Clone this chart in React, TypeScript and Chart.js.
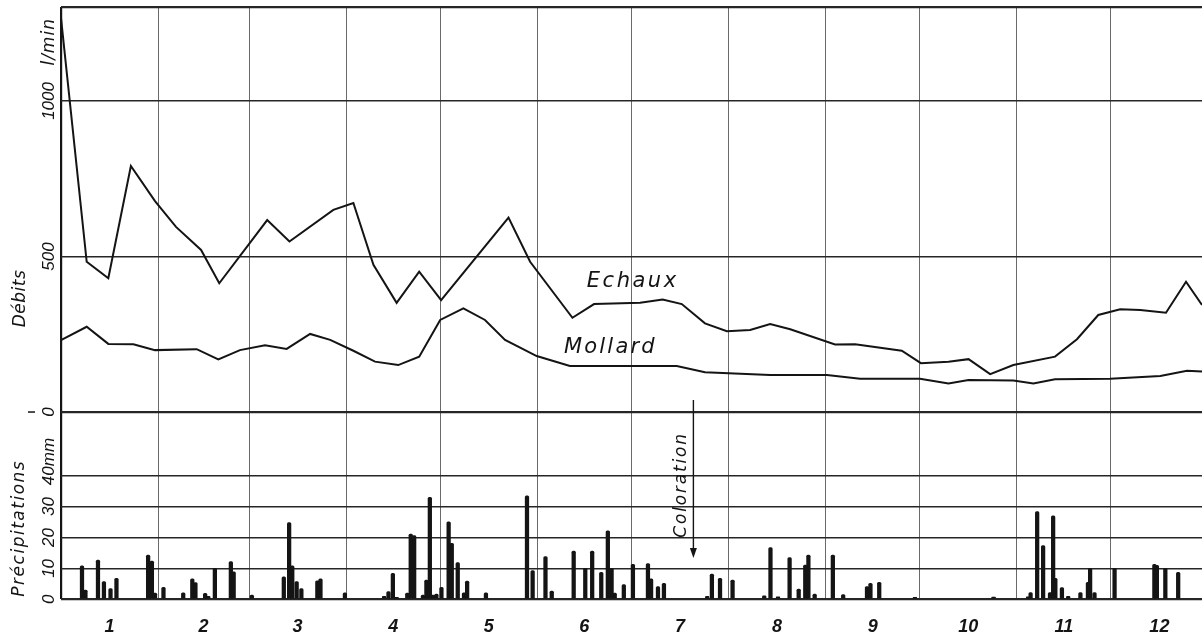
import React, { useEffect, useRef } from 'react';
import { Chart, registerables } from 'chart.js';

Chart.register(...registerables);

// ---------- DATA ----------
// x axis: day of year (leap year), months as calendar boundaries
const monthStartDays = [0, 31, 60, 91, 121, 152, 182, 213, 244, 274, 305, 335];
const monthMidDays = [15.5, 45.5, 75.5, 106, 136.5, 167, 197.5, 228.5, 259, 289.5, 320, 350.5];
const monthLabels = ['1', '2', '3', '4', '5', '6', '7', '8', '9', '10', '11', '12'];
const dayMax = 364.1;

// Débits (l/min)
const echauxDays = [0, 8.2, 15.1, 22.3, 30.0, 36.7, 44.7, 50.5, 65.8, 72.9, 86.9, 93.3, 99.7, 107.1, 114.3, 121.3, 142.8, 149.7, 163.2, 170.1, 184.8, 192.0, 198.1, 205.5, 212.5, 219.9, 226.3, 232.7, 247.0, 253.4, 268.3, 274.4, 283.2, 289.6, 296.5, 303.9, 317.2, 324.2, 331.0, 338.0, 344.4, 352.6, 359.0, 364.1];
const echauxFlow = [1267, 483, 430, 791, 678, 595, 521, 414, 617, 548, 650, 672, 473, 351, 451, 360, 625, 483, 303, 347, 351, 362, 347, 285, 260, 264, 283, 266, 217, 218, 197, 157, 162, 170, 122, 151, 178, 234, 312, 330, 328, 319, 419, 344];

const mollardDays = [0, 8.2, 15.1, 23.1, 30.0, 43.3, 50.2, 57.1, 65.1, 72.0, 79.5, 85.9, 93.3, 100.2, 107.6, 114.3, 121.0, 128.4, 135.3, 141.7, 151.8, 162.4, 196.5, 205.5, 226.3, 244.4, 255.0, 274.1, 283.2, 289.6, 303.9, 310.3, 317.2, 334.8, 350.8, 359.3, 364.1];
const mollardFlow = [231, 274, 219, 218, 199, 202, 169, 199, 215, 203, 251, 232, 197, 162, 151, 178, 296, 333, 296, 232, 180, 148, 148, 128, 119, 119, 107, 107, 92, 103, 101, 92, 105, 107, 116, 133, 130];

// Précipitations (mm)
const rainDays = [6.7, 7.8, 11.8, 13.7, 15.8, 17.7, 27.8, 29.0, 30.0, 32.7, 39.0, 41.9, 42.9, 46.0, 47.0, 49.1, 54.2, 55.1, 60.9, 71.1, 72.8, 73.8, 75.2, 76.7, 81.8, 82.8, 90.6, 103.1, 104.5, 105.9, 107.1, 110.5, 111.6, 112.7, 115.5, 116.6, 117.7, 118.7, 119.8, 121.4, 123.7, 124.7, 126.6, 128.6, 129.6, 135.6, 148.7, 150.5, 154.6, 156.6, 163.6, 167.3, 169.5, 172.4, 174.5, 175.7, 176.7, 179.6, 182.5, 187.3, 188.3, 190.5, 192.4, 206.2, 207.7, 210.3, 214.3, 224.4, 226.4, 228.8, 232.5, 235.4, 237.5, 238.5, 240.5, 246.3, 249.6, 257.2, 258.3, 261.1, 272.5, 297.6, 308.6, 309.4, 311.5, 313.4, 315.6, 316.6, 317.3, 319.4, 321.4, 325.3, 327.7, 328.4, 329.8, 336.2, 348.9, 349.7, 352.4, 356.5];
const rainMm = [10.8, 3.0, 12.7, 5.7, 3.5, 6.8, 14.3, 12.4, 2.0, 3.9, 2.1, 6.6, 5.4, 1.9, 1.0, 10.0, 12.2, 8.9, 1.4, 7.3, 24.8, 10.8, 5.7, 3.5, 6.0, 6.6, 2.1, 1.0, 2.5, 8.4, 0.6, 2.0, 21.1, 20.6, 1.4, 6.2, 33.0, 1.4, 1.7, 3.9, 25.1, 18.1, 11.9, 2.1, 5.9, 2.1, 33.5, 9.3, 13.8, 2.7, 15.6, 10.0, 15.6, 8.7, 22.2, 10.0, 2.0, 4.8, 11.3, 11.6, 6.6, 4.1, 5.2, 1.0, 8.2, 6.8, 6.2, 1.1, 16.7, 0.8, 13.5, 3.3, 11.1, 14.3, 1.7, 14.3, 1.5, 4.1, 5.2, 5.5, 0.6, 0.7, 0.8, 2.2, 28.4, 17.4, 2.2, 27.0, 6.8, 3.8, 1.0, 2.2, 5.5, 10.0, 2.2, 10.0, 11.3, 11.0, 10.0, 8.7];

// Axis ranges and tick labels
const flowMin = -602;
const flowMax = 1302;
const flowTicks = [0, 500, 1000];
const flowTickLabels = ['0', '500', '1000'];
const flowUnit = 'l/min';
const flowUnitAt = 1190;
const flowTitle = 'Débits';
const flowTitleAt = 365;

const rainMax = 191.7;
const rainTicks = [0, 10, 20, 30, 40];
const rainTickLabels = ['0', '10', '20', '30', '40mm'];
const rainTitle = 'Précipitations';
const rainTitleAt = 23;

const seriesNames = ['Echaux', 'Mollard'];
const echauxLabelAt = { day: 167.8, flow: 402 };
const mollardLabelAt = { day: 160.5, flow: 190 };
const colorationText = 'Coloration';
const colorationTextAt = { day: 199.5, mm: 37 };
const colorationArrow = { day: 201.8, fromMm: 64.5, toMm: 13.4 };

// ---------- STYLE ----------
const INK = '#141414';
const DIGIT_FONT = 'italic 17px "Liberation Sans", Arial, sans-serif';
const WORD_FONT = 'italic 17px "DejaVu Sans", sans-serif';
const SERIES_FONT = 'italic 21px "DejaVu Sans", sans-serif';

const annotationPlugin = {
  id: 'annotations',
  afterDraw(chart: any) {
    const { ctx } = chart;
    const xs = chart.scales.x;
    const yF = chart.scales.yF;
    const yP = chart.scales.yP;
    ctx.save();
    ctx.fillStyle = INK;
    ctx.strokeStyle = INK;

    const rot = (text: string, bx: number, cy: number, font: string, align: CanvasTextAlign = 'center', spacing = 0) => {
      ctx.save();
      ctx.translate(bx, cy);
      ctx.rotate(-Math.PI / 2);
      ctx.font = font;
      (ctx as any).letterSpacing = spacing + 'px';
      ctx.textAlign = align;
      ctx.textBaseline = 'alphabetic';
      ctx.fillText(text, 0, 0);
      ctx.restore();
    };

    // flow tick labels
    flowTicks.forEach((v, i) => rot(flowTickLabels[i], 54, yF.getPixelForValue(v), DIGIT_FONT));
    rot(flowUnit, 54, yF.getPixelForValue(flowUnitAt), WORD_FONT, 'center', 1);
    // small mark left of flow zero
    ctx.lineWidth = 1.5;
    ctx.beginPath();
    const y0 = yF.getPixelForValue(0);
    ctx.moveTo(28, y0);
    ctx.lineTo(35, y0);
    ctx.stroke();

    // rain tick labels
    rainTicks.forEach((v, i) => {
      const lbl = rainTickLabels[i];
      const num = lbl.replace(/[^0-9]/g, '');
      const py = yP.getPixelForValue(v);
      if (num !== lbl) {
        ctx.font = DIGIT_FONT;
        const w = ctx.measureText(num).width;
        rot(lbl, 54, py + w / 2, DIGIT_FONT, 'left');
      } else {
        rot(lbl, 54, py, DIGIT_FONT);
      }
    });

    // axis titles
    rot(flowTitle, 25, yF.getPixelForValue(flowTitleAt), WORD_FONT, 'center', 0.5);
    rot(rainTitle, 24, yP.getPixelForValue(rainTitleAt), WORD_FONT, 'center', 1.5);

    // series labels
    ctx.font = SERIES_FONT;
    ctx.textAlign = 'left';
    ctx.textBaseline = 'alphabetic';
    (ctx as any).letterSpacing = '2.5px';
    ctx.fillText(seriesNames[0], xs.getPixelForValue(echauxLabelAt.day), yF.getPixelForValue(echauxLabelAt.flow));
    (ctx as any).letterSpacing = '2.2px';
    ctx.fillText(seriesNames[1], xs.getPixelForValue(mollardLabelAt.day), yF.getPixelForValue(mollardLabelAt.flow));
    (ctx as any).letterSpacing = '0px';

    // Coloration text + arrow
    rot(colorationText, xs.getPixelForValue(colorationTextAt.day), yP.getPixelForValue(colorationTextAt.mm), WORD_FONT, 'center', 1.8);
    const ax = xs.getPixelForValue(colorationArrow.day);
    const ayTop = yP.getPixelForValue(colorationArrow.fromMm);
    const ayTip = yP.getPixelForValue(colorationArrow.toMm);
    ctx.lineWidth = 1.4;
    ctx.beginPath();
    ctx.moveTo(ax, ayTop);
    ctx.lineTo(ax, ayTip - 8);
    ctx.stroke();
    ctx.beginPath();
    ctx.moveTo(ax, ayTip);
    ctx.lineTo(ax - 3.5, ayTip - 10);
    ctx.lineTo(ax + 3.5, ayTip - 10);
    ctx.closePath();
    ctx.fill();

    ctx.restore();
  },
};

export default function App() {
  const canvasRef = useRef<HTMLCanvasElement>(null);

  useEffect(() => {
    const canvas = canvasRef.current;
    if (!canvas) return;

    const echauxData = echauxDays.map((d, i) => ({ x: d, y: echauxFlow[i] }));
    const mollardData = mollardDays.map((d, i) => ({ x: d, y: mollardFlow[i] }));
    const rainData = rainDays.map((d, i) => ({ x: d, y: rainMm[i] }));
    const boundSet = new Set(monthStartDays);

    const chart = new Chart(canvas, {
      type: 'bar',
      data: {
        datasets: [
          {
            type: 'line',
            label: seriesNames[0],
            data: echauxData,
            yAxisID: 'yF',
            borderColor: INK,
            borderWidth: 2,
            pointRadius: 0,
            tension: 0,
            fill: false,
          } as any,
          {
            type: 'line',
            label: seriesNames[1],
            data: mollardData,
            yAxisID: 'yF',
            borderColor: INK,
            borderWidth: 2,
            pointRadius: 0,
            tension: 0,
            fill: false,
          } as any,
          {
            type: 'bar',
            label: 'Précipitations',
            data: rainData,
            yAxisID: 'yP',
            backgroundColor: INK,
            borderWidth: 0,
            barThickness: 3.6,
            grouped: false,
            borderRadius: { topLeft: 1.5, topRight: 1.5, bottomLeft: 0, bottomRight: 0 },
            borderSkipped: 'bottom',
          } as any,
        ],
      },
      options: {
        responsive: false,
        animation: false,
        devicePixelRatio: 1,
        layout: { padding: { left: 61, top: 7, right: 0, bottom: 0 } },
        plugins: {
          legend: { display: false },
          tooltip: { enabled: false },
          title: { display: false },
        },
        scales: {
          x: {
            type: 'linear',
            position: 'bottom',
            offset: false,
            min: 0,
            max: dayMax,
            afterBuildTicks: (s: any) => {
              const vals = [...monthStartDays, ...monthMidDays].filter((v) => v <= dayMax).sort((a, b) => a - b);
              s.ticks = vals.map((v) => ({ value: v }));
            },
            afterFit: (s: any) => {
              s.height = 39.7;
            },
            ticks: {
              autoSkip: false,
              maxRotation: 0,
              minRotation: 0,
              padding: 16.5,
              color: INK,
              font: { family: '"Liberation Sans", Arial, sans-serif', size: 18, style: 'italic', weight: 'bold' },
              callback: (v: any) => {
                const i = monthMidDays.indexOf(Number(v));
                return i >= 0 ? monthLabels[i] : '';
              },
            },
            grid: {
              offset: false,
              drawTicks: false,
              color: (c: any) => (boundSet.has(c.tick?.value) ? (c.tick.value === 0 ? INK : '#6a6a6a') : 'rgba(0,0,0,0)'),
              lineWidth: (c: any) => (c.tick?.value === 0 ? 2.2 : 1),
            },
            border: { display: false },
          },
          yF: {
            type: 'linear',
            position: 'left',
            min: flowMin,
            max: flowMax,
            afterBuildTicks: (s: any) => {
              s.ticks = [...flowTicks, flowMax].map((v) => ({ value: v }));
            },
            afterFit: (s: any) => {
              s.width = 0;
            },
            ticks: { display: false },
            grid: {
              drawTicks: false,
              color: '#262626',
              lineWidth: (c: any) => (c.tick?.value === 0 || c.tick?.value === flowMax ? 2.2 : 1.4),
            },
            border: { display: false },
          },
          yP: {
            type: 'linear',
            position: 'left',
            min: 0,
            max: rainMax,
            afterBuildTicks: (s: any) => {
              s.ticks = rainTicks.map((v) => ({ value: v }));
            },
            afterFit: (s: any) => {
              s.width = 0;
            },
            ticks: { display: false },
            grid: {
              drawTicks: false,
              color: '#262626',
              lineWidth: (c: any) => (c.tick?.value === 0 ? 2.2 : 1.4),
            },
            border: { display: false },
          },
        },
      } as any,
      plugins: [annotationPlugin],
    });

    return () => chart.destroy();
  }, []);

  return (
    <div style={{ position: 'fixed', left: 0, top: 0, width: 1202, height: 639, background: '#ffffff', overflow: 'hidden' }}>
      <canvas ref={canvasRef} width={1202} height={639} style={{ display: 'block' }} />
    </div>
  );
}
